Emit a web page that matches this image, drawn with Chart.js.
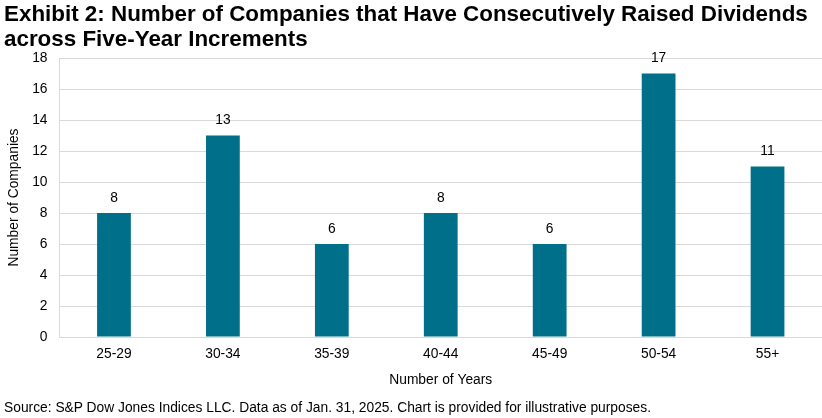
<!DOCTYPE html>
<html>
<head>
<meta charset="utf-8">
<script src="https://cdn.jsdelivr.net/npm/chart.js@4.4.1/dist/chart.umd.min.js"></script>
<style>
  html, body { margin: 0; padding: 0; background: #fff; }
  #wrap { position: relative; width: 822px; height: 418px; overflow: hidden; font-family: "Liberation Sans", Arial, sans-serif; }
  #title { position: absolute; left: 4px; top: 2px; font-size: 22.4px; font-weight: bold; line-height: 24.5px; color: #000; white-space: nowrap; }
  #source { position: absolute; left: 4px; top: 400px; font-size: 13.8px; line-height: 16px; color: #000; white-space: nowrap; }
  #c { position: absolute; left: 0; top: 0; }
</style>
</head>
<body>
<div id="wrap">
  <canvas id="c" width="822" height="418" style="width:822px;height:418px"></canvas>
  <div id="title">Exhibit 2: Number of Companies that Have Consecutively Raised Dividends<br>across Five-Year Increments</div>
  <div id="source">Source: S&amp;P Dow Jones Indices LLC. Data as of Jan. 31, 2025. Chart is provided for illustrative purposes.</div>
</div>
<script>
const categories = ["25-29", "30-34", "35-39", "40-44", "45-49", "50-54", "55+"];
const companyCounts = [8, 13, 6, 8, 6, 17, 11];
const yTicks = [0, 2, 4, 6, 8, 10, 12, 14, 16, 18];

const FONT = "'Liberation Sans', Arial, sans-serif";
const FS = 13.8;

const valueLabels = {
  id: 'valueLabels',
  afterDatasetsDraw(chart) {
    const ctx = chart.ctx;
    const meta = chart.getDatasetMeta(0);
    ctx.save();
    ctx.font = FS + "px " + FONT;
    ctx.fillStyle = "#000";
    ctx.textAlign = "center";
    ctx.textBaseline = "middle";
    meta.data.forEach((bar, i) => {
      ctx.fillText(String(chart.data.datasets[0].data[i]), bar.x, bar.y - 15);
    });
    ctx.restore();
  }
};

new Chart(document.getElementById('c'), {
  type: 'bar',
  data: {
    labels: categories,
    datasets: [{
      data: companyCounts,
      backgroundColor: '#006F8A',
      borderWidth: 0,
      barPercentage: 0.62,
      categoryPercentage: 0.5
    }]
  },
  options: {
    responsive: false,
    maintainAspectRatio: false,
    animation: false,
    devicePixelRatio: 1,
    layout: { padding: { top: 58, right: 0, bottom: 30, left: 0 } },
    plugins: { legend: { display: false }, tooltip: { enabled: false }, title: { display: false } },
    scales: {
      x: {
        grid: { display: false, drawTicks: false },
        border: { display: true, color: '#D9D9D9', width: 1 },
        ticks: { color: '#000', font: { family: FONT, size: FS }, padding: 9 },
        title: { display: true, text: 'Number of Years', color: '#000', font: { family: FONT, size: FS }, padding: { top: 10, bottom: 0 } },
        afterFit(scale) { scale.height = 51; }
      },
      y: {
        min: 0, max: 18,
        afterBuildTicks(scale) { scale.ticks = yTicks.map(v => ({ value: v })); },
        grid: { color: '#D9D9D9', lineWidth: 1, drawTicks: false },
        border: { display: true, color: '#D9D9D9', width: 1 },
        ticks: { color: '#000', font: { family: FONT, size: FS }, padding: 12 },
        title: { display: true, text: 'Number of Companies', color: '#000', font: { family: FONT, size: FS }, padding: { top: 6, bottom: 0 } },
        afterFit(scale) { scale.width = 59.5; }
      }
    }
  },
  plugins: [valueLabels]
});
</script>
</body>
</html>
